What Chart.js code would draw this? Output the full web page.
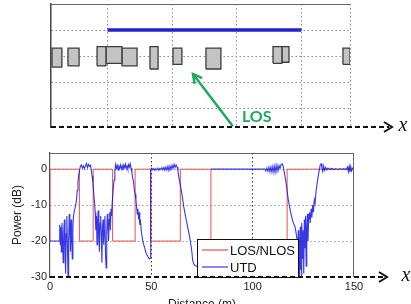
<!DOCTYPE html>
<html lang="en">
<head>
<meta charset="UTF-8">
<title>LOS/NLOS vs UTD</title>
<script src="https://cdn.jsdelivr.net/npm/chart.js"></script>
<style>
  html, body { margin: 0; padding: 0; background: #fff; overflow: hidden; }
  .panel { position: absolute; left: 0; width: 411px; }
  #top { top: 0; height: 140px; }
  #bottom { top: 140px; height: 175px; }
</style>
</head>
<body>
<div class="panel" id="top"><canvas id="streetChart"></canvas></div>
<div class="panel" id="bottom"><canvas id="powerChart"></canvas></div>

<script>
// ---- top sketch: street, buildings, LOS stretch ----
const streetTicks = [28, 60, 92, 124, 148];
const laneTicks = [1, 2, 3, 4];
const losSegX = [28, 124];
const losSegY = [4, 4];
const bldStart  = [0.5, 8.4, 22.8, 27.2, 35.1, 49.0, 60.4, 76.7, 109.9, 114.3, 144.5];
const bldEnd    = [5.4, 13.9, 27.2, 35.1, 42.6, 53.0, 64.8, 84.1, 114.3, 117.8, 148.0];
const bldTop    = [3.30, 3.30, 3.36, 3.36, 3.30, 3.36, 3.30, 3.30, 3.36, 3.36, 3.30];
const bldBottom = [2.57, 2.62, 2.62, 2.72, 2.62, 2.50, 2.68, 2.50, 2.72, 2.76, 2.68];

// ---- bottom plot: received power along the street ----
const distTicks = [0, 50, 100, 150];
const powerTicks = [-30, -20, -10, 0];
const seriesNames = ['LOS/NLOS', 'UTD'];
const losDist  = [0, 14.5, 21.3, 30.9, 42.0, 49.7, 64.3, 79.4, 117.0, 132.5, 150];
const losPower = [-20, 0, -20, 0, -20, 0, -20, 0, -20, 0, 0];
const utdDist = [
  0, 4.6, 4.8, 5.1, 5.3, 5.6, 5.9, 6.2, 6.5, 6.8, 7.1, 7.4, 7.7, 8.0, 8.3, 8.6, 8.9, 9.2, 9.5, 9.8,
  10.1, 10.4, 10.7, 11.0, 11.3, 11.6, 12.0, 12.5, 13.0, 13.4, 13.8, 14.2, 14.6, 15.0, 15.5, 16.0, 16.5, 17.0, 17.5, 18.0,
  18.5, 19.0, 19.5, 20.0, 20.4, 20.8, 21.2, 21.6, 22.0, 22.3, 22.6, 22.9, 23.2, 23.5, 23.8, 24.1, 24.4, 24.7, 25.0, 25.3,
  25.6, 25.9, 26.2, 26.5, 26.8, 27.1, 27.4, 27.7, 28.0, 28.3, 28.6, 28.9, 29.2, 29.5, 29.8, 30.1, 30.4, 30.8, 31.2, 31.6,
  32.0, 32.4, 32.8, 33.2, 33.6, 34.0, 34.4, 34.8, 35.2, 35.6, 36.0, 36.4, 36.8, 37.2, 37.6, 38.0, 38.4, 38.8, 39.2, 39.6,
  40.0, 40.4, 40.8, 41.2, 41.6, 42.0, 42.4, 42.8, 43.1, 43.4, 43.7, 44.0, 44.3, 44.6, 45.0, 45.5, 46.0, 46.5, 47.0, 47.5,
  48.0, 48.5, 49.0, 49.5, 49.7, 50.2, 50.7, 51.2, 51.7, 52.2, 52.7, 53.2, 53.7, 54.2, 54.7, 55.2, 55.7, 56.2, 56.7, 57.2,
  57.7, 58.2, 58.7, 59.2, 59.7, 60.2, 60.7, 61.2, 61.7, 62.2, 62.7, 63.1, 63.5, 64.0, 64.5, 65.0, 65.5, 66.0, 66.6, 67.2,
  68.2, 68.8, 69.4, 70.0, 70.4, 71.0, 71.5, 72.4, 73.0, 76.0, 79.4, 106.0, 106.5, 107.0, 107.5, 108.0, 108.5, 109.0, 109.5, 110.0,
  110.5, 111.0, 111.5, 112.0, 112.5, 113.0, 113.5, 114.0, 114.6, 115.2, 115.8, 116.4, 117.0, 117.6, 118.4, 119.2, 120.0, 120.9, 121.5, 122.0,
  122.3, 122.5, 122.7, 122.9, 123.1, 123.3, 123.5, 123.7, 123.9, 124.1, 124.3, 124.6, 124.9, 125.2, 125.5, 125.8, 126.1, 126.4, 126.7, 127.0,
  127.3, 127.6, 128.0, 128.4, 128.8, 129.2, 129.6, 130.0, 130.4, 130.8, 131.3, 131.8, 132.3, 132.8, 133.3, 133.8, 134.2, 134.6, 135.0, 135.5,
  136.0, 136.6, 137.2, 138.0, 139.0, 140.0, 141.0, 142.0, 143.0, 144.0, 145.0, 146.0, 146.8, 147.2, 147.6, 148.0, 148.4, 148.8, 149.3, 150.0
];
const utdPower = [
  -20, -20, -15.5, -21, -16, -23, -15, -19, -26, -17, -14, -22, -29, -18, -13, -21, -30, -20, -12.5, -17,
  -23, -14, -19, -25, -16, -13, -11.5, -10.5, -9, -6, -3.5, -1.5, -0.3, 0.8, 1.2, 0.3, 0.9, 0.1, 1.0, 1.6,
  0.4, 1.3, 0.8, 1.1, -0.3, -2, -4, -7, -9.5, -12, -17, -13, -21, -14, -11.5, -19, -23, -15, -13, -18,
  -26, -16, -14, -21, -17, -13, -24, -27.5, -18, -12.5, -16, -20, -14, -12, -17, -11, -13, -8.5, -5.5, -3,
  -0.5, 1.3, 0.2, 1.0, -0.2, 0.8, 0.3, 1.2, 0.1, 0.9, -0.3, 1.1, 0.4, 1.4, 0.2, 0.9, 0.0, 1.3, 0.6, 1.5,
  0.3, -0.8, -2.5, -3.5, -5.5, -7, -8.5, -11, -12.5, -11, -14, -12, -15.5, -14, -17, -19, -20.5, -21.5, -22.5, -23.5,
  -24, -24.5, -25, -24.8, 0, 0.3, -0.2, 0.2, -0.3, 0.1, -0.2, 0.3, -0.3, 0.2, -0.1, 0.4, -0.2, 0.5, -0.3, 0.6,
  -0.2, 0.8, -0.4, 0.9, -0.1, 1.1, 0.2, 1.3, 0.5, 1.2, 0.6, -0.3, -2, -3.5, -5, -6.7, -8.5, -10.5, -12.3, -14,
  -16.9, -18.5, -20.6, -23, -25.4, -26.4, -26.8, -27, -27.2, null, 0, 0, -0.5, 0.3, -0.6, 0.5, -0.7, 0.6, -0.8, 0.8,
  -0.9, 1.0, -0.8, 1.1, -0.5, 1.0, 0.2, 1.3, 1.5, 0.5, -1.5, -3.5, -6, -8.6, -11, -13.2, -14.8, -16, -18, -20,
  -24, -17, -27, -19, -30, -21, -16, -28, -18, -30, -15, -25, -17, -29, -14, -22, -13, -27, -16, -12.5,
  -20, -14, -12, -15, -11, -13.5, -10, -12, -8.5, -9.5, -6, -4, -2, -0.5, 1.1, 1.5, 0.3, -0.6, 0.9, -0.3,
  0.5, -0.2, 0.3, -0.1, 0.2, -0.1, 0.1, -0.1, 0.1, 0, 0.1, -0.1, 0.6, -0.7, 0.8, -0.8, 0.7, -0.5, 0.3, 0
];

const sansFont = 'Liberation Sans, Arial, sans-serif';

// dashed black axis line ending in an arrow and an italic x
function axisArrow(ctx, x0, yLine, tipX, labelX) {
  ctx.save();
  ctx.strokeStyle = '#111';
  ctx.lineWidth = 2;
  ctx.setLineDash([5, 3]);
  ctx.beginPath();
  ctx.moveTo(x0, yLine);
  ctx.lineTo(tipX - 3, yLine);
  ctx.stroke();
  ctx.setLineDash([]);
  ctx.beginPath();
  ctx.moveTo(tipX - 8, yLine - 5);
  ctx.lineTo(tipX, yLine);
  ctx.lineTo(tipX - 8, yLine + 5);
  ctx.stroke();
  ctx.fillStyle = '#111';
  ctx.font = 'italic 20px Liberation Serif, DejaVu Serif, serif';
  ctx.textAlign = 'center';
  ctx.textBaseline = 'middle';
  ctx.fillText('x', labelX, yLine - 1);
  ctx.restore();
}

const streetDecor = {
  id: 'streetDecor',
  afterDraw(chart) {
    const {ctx, chartArea: a, scales: {x, y}} = chart;
    ctx.save();
    ctx.strokeStyle = '#666';
    ctx.lineWidth = 1;
    ctx.beginPath();
    ctx.moveTo(a.left, a.top + 0.5);
    ctx.lineTo(a.right, a.top + 0.5);
    ctx.stroke();

    // green pointer to the LOS stretch
    const tx = x.getPixelForValue(90), ty = y.getPixelForValue(0.3);
    const hx = x.getPixelForValue(70.3), hy = y.getPixelForValue(2.31);
    const ang = Math.atan2(hy - ty, hx - tx);
    ctx.strokeStyle = '#1fa862';
    ctx.lineWidth = 2.5;
    ctx.beginPath();
    ctx.moveTo(tx, ty);
    ctx.lineTo(hx, hy);
    ctx.stroke();
    ctx.beginPath();
    ctx.moveTo(hx - 10 * Math.cos(ang - 0.5), hy - 10 * Math.sin(ang - 0.5));
    ctx.lineTo(hx, hy);
    ctx.lineTo(hx - 10 * Math.cos(ang + 0.5), hy - 10 * Math.sin(ang + 0.5));
    ctx.stroke();
    ctx.fillStyle = '#1fa862';
    ctx.font = 'bold 16px Lato, Open Sans, sans-serif';
    ctx.textBaseline = 'alphabetic';
    ctx.fillText('LOS', x.getPixelForValue(94.5), y.getPixelForValue(0.46));
    ctx.restore();

    axisArrow(ctx, a.left, a.bottom, 392, 403);
  }
};

const powerDecor = {
  id: 'powerDecor',
  afterDatasetsDraw(chart) {
    const {ctx, chartArea: a} = chart;
    ctx.save();
    ctx.strokeStyle = '#666';
    ctx.lineWidth = 1;
    ctx.beginPath();
    ctx.moveTo(a.left, a.top + 0.5);
    ctx.lineTo(a.right - 0.5, a.top + 0.5);
    ctx.lineTo(a.right - 0.5, a.bottom);
    ctx.stroke();

    // legend box, lower middle of the plot
    const lx = a.left + 147, ly = a.top + 86, lw = 101, lh = a.bottom - ly;
    ctx.fillStyle = '#fff';
    ctx.fillRect(lx, ly, lw, lh);
    ctx.strokeStyle = '#111';
    ctx.strokeRect(lx + 0.5, ly + 0.5, lw, lh);
    ctx.font = '13px ' + sansFont;
    ctx.textBaseline = 'middle';
    chart.data.datasets.forEach((ds, i) => {
      const rowY = ly + 11 + i * 17;
      ctx.strokeStyle = ds.borderColor;
      ctx.lineWidth = 1.2;
      ctx.beginPath();
      ctx.moveTo(lx + 5, rowY);
      ctx.lineTo(lx + 31, rowY);
      ctx.stroke();
      ctx.fillStyle = '#111';
      ctx.fillText(ds.label, lx + 33, rowY + 1);
    });
    ctx.restore();

    axisArrow(ctx, a.left, a.bottom, 387, 406);
  }
};

new Chart(document.getElementById('streetChart'), {
  type: 'line',
  data: {
    datasets: [
      ...bldStart.map((x0, i) => ({
        label: 'building ' + (i + 1),
        data: [
          {x: x0, y: bldBottom[i]}, {x: x0, y: bldTop[i]},
          {x: bldEnd[i], y: bldTop[i]}, {x: bldEnd[i], y: bldBottom[i]},
          {x: x0, y: bldBottom[i]}
        ],
        fill: 'shape',
        backgroundColor: '#c4c4c4',
        borderColor: '#3c3c3c',
        borderWidth: 1.3,
        pointRadius: 0
      })),
      {
        label: 'LOS',
        data: losSegX.map((v, i) => ({x: v, y: losSegY[i]})),
        borderColor: '#2020cc',
        borderWidth: 3.5,
        pointRadius: 0
      }
    ]
  },
  options: {
    responsive: true,
    maintainAspectRatio: false,
    animation: false,
    layout: {padding: {left: 51, right: 61, top: 4, bottom: 13}},
    plugins: {legend: {display: false}, tooltip: {enabled: false}},
    scales: {
      x: {
        type: 'linear', min: 0, max: 148,
        afterBuildTicks: s => { s.ticks = streetTicks.map(v => ({value: v})); },
        afterFit: s => { s.height = 0; },
        ticks: {display: false},
        grid: {drawTicks: false, color: '#8a8a8a', lineWidth: 1},
        border: {display: false, dash: [1.5, 2.5]}
      },
      y: {
        type: 'linear', min: 0.27, max: 5,
        afterBuildTicks: s => { s.ticks = laneTicks.map(v => ({value: v})); },
        afterFit: s => { s.width = 0; },
        ticks: {display: false},
        grid: {drawTicks: false, color: '#8a8a8a', lineWidth: 1},
        border: {display: true, color: '#444', width: 1.5, dash: [1.5, 2.5]}
      }
    }
  },
  plugins: [streetDecor]
});

new Chart(document.getElementById('powerChart'), {
  type: 'line',
  data: {
    datasets: [
      {
        label: seriesNames[0],
        data: losDist.map((v, i) => ({x: v, y: losPower[i]})),
        stepped: 'after',
        borderColor: '#e8504f',
        borderWidth: 1,
        pointRadius: 0,
        order: 1
      },
      {
        label: seriesNames[1],
        data: utdDist.map((v, i) => ({x: v, y: utdPower[i]})),
        borderColor: 'rgba(20, 20, 225, 0.85)',
        borderWidth: 1.1,
        pointRadius: 0,
        order: 0
      }
    ]
  },
  options: {
    responsive: true,
    maintainAspectRatio: false,
    animation: false,
    layout: {padding: {left: 0, right: 57, top: 13, bottom: 0}},
    plugins: {legend: {display: false}, tooltip: {enabled: false}},
    scales: {
      x: {
        type: 'linear', min: 0, max: 150,
        afterBuildTicks: s => { s.ticks = distTicks.map(v => ({value: v})); },
        afterFit: s => { s.height = 38; },
        ticks: {padding: 3, color: '#222', font: {family: sansFont, size: 11}, maxRotation: 0},
        grid: {
          drawTicks: false,
          color: c => (c.tick && (c.tick.value === 50 || c.tick.value === 100)) ? '#333' : 'rgba(0,0,0,0)'
        },
        border: {display: false, dash: [1.5, 2.5]},
        title: {display: true, text: 'Distance (m)', color: '#222', font: {family: sansFont, size: 12}, padding: {top: 0, bottom: 3}}
      },
      y: {
        type: 'linear', min: -30, max: 4.5,
        afterBuildTicks: s => { s.ticks = powerTicks.map(v => ({value: v})); },
        afterFit: s => { s.width = 50; },
        ticks: {padding: 3, color: '#222', font: {family: sansFont, size: 11}},
        grid: {
          drawTicks: false,
          color: c => (c.tick && c.tick.value === -30) ? 'rgba(0,0,0,0)' : '#999'
        },
        border: {display: true, color: '#555', width: 1.2, dash: [1.5, 2.5]},
        title: {display: true, text: 'Power (dB)', color: '#222', font: {family: sansFont, size: 12}, padding: {top: 10, bottom: 0}}
      }
    }
  },
  plugins: [powerDecor]
});
</script>
</body>
</html>
